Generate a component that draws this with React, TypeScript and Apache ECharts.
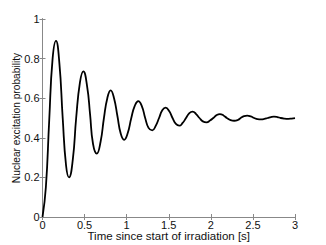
import React, { useEffect, useRef } from "react";
import * as echarts from "echarts";

const timeSeconds = [
  0, 0.04, 0.08, 0.12, 0.16, 0.2, 0.24, 0.28, 0.315, 0.36, 0.4, 0.445, 0.485,
  0.53, 0.565, 0.6, 0.645, 0.69, 0.73, 0.77, 0.81, 0.85, 0.89, 0.93, 0.97,
  1.01, 1.055, 1.095, 1.138, 1.18, 1.22, 1.26, 1.304, 1.345, 1.385, 1.425,
  1.463, 1.505, 1.545, 1.585, 1.625, 1.665, 1.705, 1.745, 1.784, 1.825, 1.865,
  1.905, 1.95, 1.99, 2.03, 2.07, 2.108, 2.15, 2.19, 2.235, 2.278, 2.32, 2.355,
  2.395, 2.432, 2.475, 2.515, 2.555, 2.595, 2.635, 2.675, 2.715, 2.75, 2.79,
  2.83, 2.875, 2.92, 2.96, 3.0,
];

const excitationProbability = [
  0, 0.15, 0.49, 0.8, 0.89, 0.78, 0.5, 0.26, 0.2, 0.29, 0.5, 0.68, 0.735,
  0.66, 0.52, 0.37, 0.32, 0.38, 0.5, 0.6, 0.64, 0.6, 0.51, 0.42, 0.39,
  0.42, 0.5, 0.56, 0.585, 0.56, 0.5, 0.45, 0.438, 0.46, 0.5, 0.54,
  0.552, 0.535, 0.5, 0.47, 0.461, 0.475, 0.5, 0.525, 0.532, 0.52, 0.5,
  0.483, 0.478, 0.487, 0.5, 0.515, 0.52, 0.513, 0.5, 0.489, 0.486, 0.49, 0.5,
  0.509, 0.512, 0.508, 0.5, 0.494, 0.493, 0.495, 0.5, 0.505, 0.507, 0.505,
  0.5, 0.497, 0.496, 0.497, 0.499,
];

const xTitle = "Time since start of irradiation [s]";
const yTitle = "Nuclear excitation probability";

const FONT = "'Liberation Sans', Arial, Helvetica, sans-serif";

export default function App() {
  const ref = useRef<HTMLDivElement>(null);
  useEffect(() => {
    if (!ref.current) return;
    const chart = echarts.init(ref.current, undefined, { renderer: "svg" });
    const tickStyle = { show: true, inside: true, length: 3, lineStyle: { color: "#888", width: 1 } };
    chart.setOption({
      animation: false,
      backgroundColor: "#fff",
      grid: {
        left: 42.5,
        right: 31,
        top: 19,
        bottom: 28,
        containLabel: false,
        outerBoundsMode: "none",
      },
      xAxis: [
        {
          type: "value",
          min: 0,
          max: 3,
          interval: 0.5,
          position: "bottom",
          axisLine: { show: true, lineStyle: { color: "#222", width: 1 } },
          axisTick: tickStyle,
          splitLine: { show: false },
          axisLabel: { color: "#111", fontSize: 11, fontFamily: FONT, margin: 2 },
          name: xTitle,
          nameLocation: "middle",
          nameGap: 13,
          nameMoveOverlap: false,
          nameTextStyle: { color: "#111", fontSize: 11.5, fontFamily: FONT },
        },
        {
          type: "value",
          min: 0,
          max: 3,
          interval: 0.5,
          position: "top",
          axisLine: { show: true, lineStyle: { color: "#888", width: 1 } },
          axisTick: tickStyle,
          splitLine: { show: false },
          axisLabel: { show: false },
        },
      ],
      yAxis: [
        {
          type: "value",
          min: 0,
          max: 1,
          interval: 0.2,
          position: "left",
          axisLine: { show: true, lineStyle: { color: "#222", width: 1 } },
          axisTick: tickStyle,
          splitLine: { show: false },
          axisLabel: { color: "#111", fontSize: 11, fontFamily: FONT, margin: 3 },
          name: yTitle,
          nameLocation: "middle",
          nameGap: 21,
          nameMoveOverlap: false,
          nameTextStyle: { color: "#111", fontSize: 10.2, fontFamily: FONT },
        },
        {
          type: "value",
          min: 0,
          max: 1,
          interval: 0.2,
          position: "right",
          axisLine: { show: true, lineStyle: { color: "#888", width: 1 } },
          axisTick: tickStyle,
          splitLine: { show: false },
          axisLabel: { show: false },
        },
      ],
      series: [
        {
          type: "line",
          data: timeSeconds.map((t, i) => [t, excitationProbability[i]]),
          showSymbol: false,
          smooth: 0.5,
          lineStyle: { color: "#000", width: 1.8 },
          xAxisIndex: 0,
          yAxisIndex: 0,
        },
      ],
    });
    return () => chart.dispose();
  }, []);
  return (
    <div
      ref={ref}
      style={{ position: "fixed", left: 0, top: 0, width: 326, height: 245 }}
    />
  );
}
